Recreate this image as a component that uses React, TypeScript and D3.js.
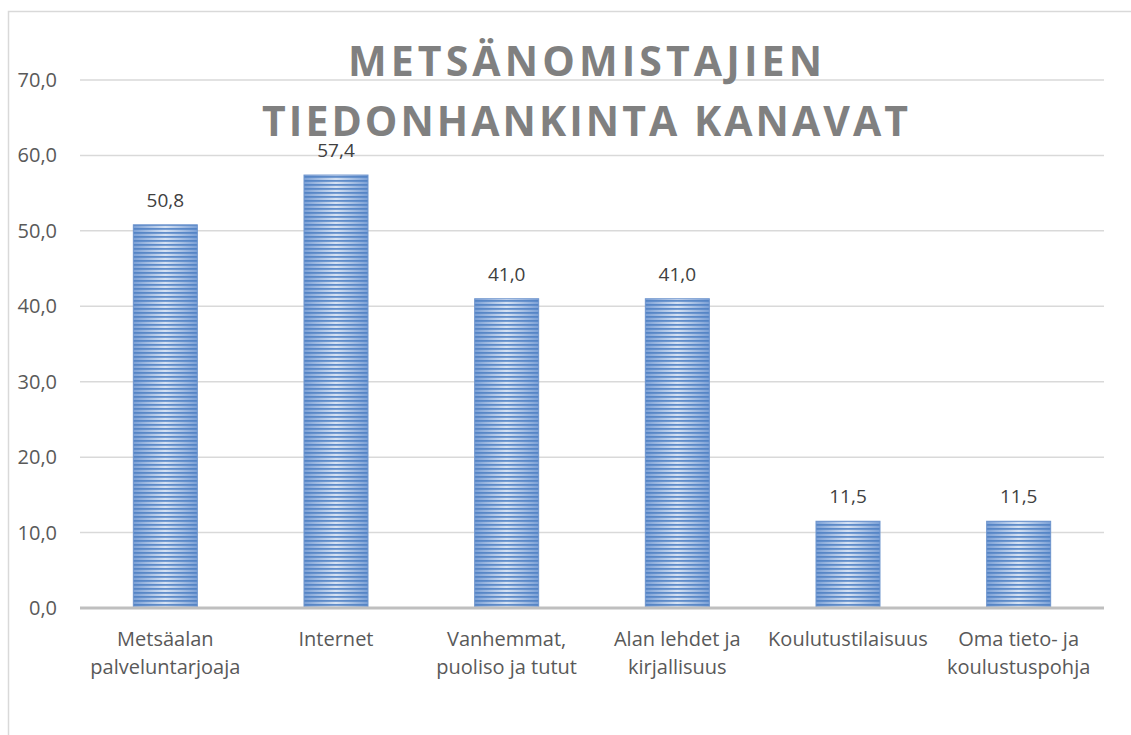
import React from "react";
import * as d3 from "d3";

const categories = [
  ["Metsäalan", "palveluntarjoaja"],
  ["Internet"],
  ["Vanhemmat,", "puoliso ja tutut"],
  ["Alan lehdet ja", "kirjallisuus"],
  ["Koulutustilaisuus"],
  ["Oma tieto- ja", "koulustuspohja"],
];
const values = [50.8, 57.4, 41.0, 41.0, 11.5, 11.5];
const yTicks = [0, 10, 20, 30, 40, 50, 60, 70];
const titleLines = ["METSÄNOMISTAJIEN", "TIEDONHANKINTA KANAVAT"];

export default function App() {
  const ref = React.useRef<HTMLDivElement>(null);

  React.useEffect(() => {
    drawChart();
  }, []);

  function drawChart() {
    d3.select(ref.current).select("svg").remove();
    const width = 1131;
    const height = 735;
    const margin = { top: 80, bottom: 127, left: 80, right: 27 };
    const font = "'Open Sans', sans-serif";

    const svg = d3
      .select(ref.current)
      .append("svg")
      .attr("width", width)
      .attr("height", height)
      .style("display", "block");

    const defs = svg.append("defs");
    const grad = defs
      .append("linearGradient")
      .attr("id", "barGrad")
      .attr("x1", "0")
      .attr("x2", "1")
      .attr("y1", "0")
      .attr("y2", "0");
    grad.append("stop").attr("offset", "0%").attr("stop-color", "#7ba0d6");
    grad.append("stop").attr("offset", "50%").attr("stop-color", "#d6e2f3");
    grad.append("stop").attr("offset", "100%").attr("stop-color", "#7ba0d6");

    const pat = defs
      .append("pattern")
      .attr("id", "stripes")
      .attr("patternUnits", "userSpaceOnUse")
      .attr("width", 8)
      .attr("height", 4);
    pat
      .append("rect")
      .attr("x", 0)
      .attr("y", 0)
      .attr("width", 8)
      .attr("height", 1.8)
      .attr("fill", "#4e7fc2")
      .attr("opacity", 0.85);

    // outer frame
    svg
      .append("rect")
      .attr("x", 8.5)
      .attr("y", 11.5)
      .attr("width", 1140)
      .attr("height", 740)
      .attr("fill", "white")
      .attr("stroke", "#d9d9d9")
      .attr("stroke-width", 1.5);

    const x = d3
      .scaleBand()
      .domain(categories.map((d, i) => String(i)))
      .range([margin.left, width - margin.right])
      .paddingInner(0.625)
      .paddingOuter(0.3125);

    const y = d3
      .scaleLinear()
      .domain([0, 70])
      .range([height - margin.bottom, margin.top]);

    // gridlines
    svg
      .append("g")
      .selectAll("line")
      .data(yTicks.filter((d) => d > 0))
      .join("line")
      .attr("x1", margin.left)
      .attr("x2", width - margin.right)
      .attr("y1", (d) => y(d))
      .attr("y2", (d) => y(d))
      .attr("stroke", "#d9d9d9")
      .attr("stroke-width", 1.5);

    // y tick labels
    svg
      .append("g")
      .selectAll("text")
      .data(yTicks)
      .join("text")
      .attr("x", 57)
      .attr("y", (d) => y(d))
      .attr("dy", "0.35em")
      .attr("text-anchor", "end")
      .attr("font-family", font)
      .attr("font-size", 20)
      .attr("fill", "#595959")
      .text((d) => d.toFixed(1).replace(".", ","));

    // bars
    const bars = svg
      .append("g")
      .selectAll("g")
      .data(values)
      .join("g");
    bars
      .append("rect")
      .attr("x", (d, i) => x(String(i)))
      .attr("y", (d) => y(d))
      .attr("width", x.bandwidth())
      .attr("height", (d) => y(0) - y(d))
      .attr("fill", "url(#barGrad)");
    bars
      .append("rect")
      .attr("x", (d, i) => x(String(i)))
      .attr("y", (d) => y(d))
      .attr("width", x.bandwidth())
      .attr("height", (d) => y(0) - y(d))
      .attr("fill", "url(#stripes)")
      .attr("stroke", "#6f95cd")
      .attr("stroke-width", 1);

    // data labels
    svg
      .append("g")
      .selectAll("text")
      .data(values)
      .join("text")
      .attr("x", (d, i) => x(String(i)) + x.bandwidth() / 2)
      .attr("y", (d) => y(d) - 18)
      .attr("text-anchor", "middle")
      .attr("font-family", font)
      .attr("font-size", 19)
      .attr("fill", "#404040")
      .text((d) => d.toFixed(1).replace(".", ","));

    // x axis line
    svg
      .append("line")
      .attr("x1", margin.left)
      .attr("x2", width - margin.right)
      .attr("y1", y(0))
      .attr("y2", y(0))
      .attr("stroke", "#bfbfbf")
      .attr("stroke-width", 3);

    // category labels
    const catText = svg
      .append("g")
      .selectAll("text")
      .data(categories)
      .join("text")
      .attr("x", (d, i) => x(String(i)) + x.bandwidth() / 2)
      .attr("y", y(0) + 38)
      .attr("text-anchor", "middle")
      .attr("font-family", font)
      .attr("font-size", 20)
      .attr("fill", "#595959");
    catText
      .selectAll("tspan")
      .data((d) => d)
      .join("tspan")
      .attr("x", function () {
        return (this.parentNode as SVGTextElement).getAttribute("x");
      })
      .attr("dy", (d, i) => (i === 0 ? 0 : 28))
      .text((d) => d);

    // title
    const titleLen = [474, 646];
    svg
      .append("g")
      .selectAll("text")
      .data(titleLines)
      .join("text")
      .attr("x", 585)
      .attr("y", (d, i) => 76 + i * 60)
      .attr("text-anchor", "middle")
      .attr("font-family", font)
      .attr("font-weight", "bold")
      .attr("font-size", 41)
      .attr("fill", "#808080")
      .attr("textLength", (d, i) => titleLen[i])
      .attr("lengthAdjust", "spacing")
      .text((d) => d);
  }

  return (
    <div ref={ref} style={{ position: "absolute", left: 0, top: 0 }} />
  );
}
